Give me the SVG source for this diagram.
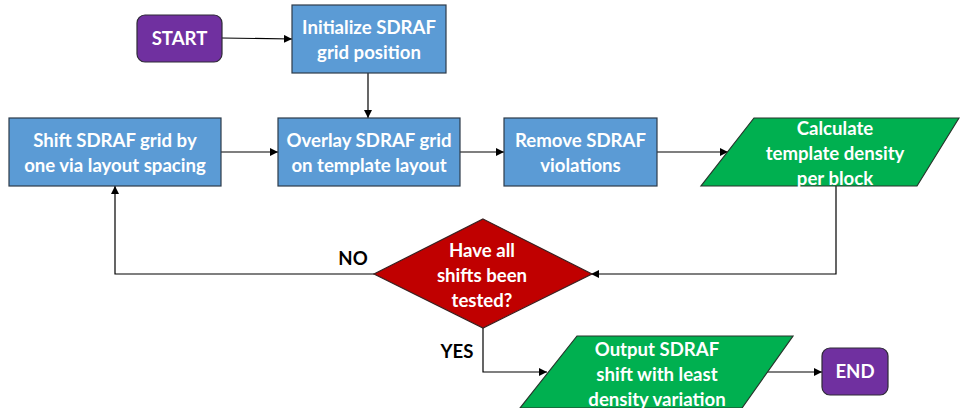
<svg xmlns="http://www.w3.org/2000/svg" width="960" height="408" viewBox="0 0 960 408">
  <style>
    .t { font-family: Lato, "Open Sans", "Liberation Sans", sans-serif; font-weight: bold; font-size: 18.6px; fill: #ffffff; text-anchor: middle; }
    .lbl { font-family: Lato, "Open Sans", "Liberation Sans", sans-serif; font-weight: bold; font-size: 18.6px; fill: #000000; text-anchor: middle; }
    .proc { fill: #5B9BD5; stroke: #2E3B4A; stroke-width: 1.2; }
    .term { fill: #7030A0; stroke: #2E2A36; stroke-width: 1.2; }
    .io { fill: #00B050; stroke: #26352B; stroke-width: 1.2; }
    .dec { fill: #C00000; stroke: #3A2020; stroke-width: 1.2; }
    .conn { fill: none; stroke: #000000; stroke-width: 1.2; }
  </style>
  <defs>
    <marker id="arrow" viewBox="0 0 10 10" refX="10" refY="5" markerWidth="8" markerHeight="8" markerUnits="userSpaceOnUse" orient="auto">
      <path d="M0,0 L10,5 L0,10 Z" fill="#000000"/>
    </marker>
  </defs>

  <rect width="960" height="408" fill="#ffffff"/>

  <!-- connectors -->
  <g id="connectors">
    <line class="conn" x1="222" y1="38" x2="292" y2="39" marker-end="url(#arrow)"/>
    <line class="conn" x1="368" y1="73" x2="368" y2="118" marker-end="url(#arrow)"/>
    <line class="conn" x1="221" y1="152" x2="278" y2="152" marker-end="url(#arrow)"/>
    <line class="conn" x1="460" y1="152" x2="504" y2="152" marker-end="url(#arrow)"/>
    <line class="conn" x1="657" y1="152" x2="728" y2="152" marker-end="url(#arrow)"/>
    <polyline class="conn" points="836,186 836,274 591,274" marker-end="url(#arrow)"/>
    <polyline class="conn" points="374,274 115,274 115,186" marker-end="url(#arrow)"/>
    <polyline class="conn" points="483,328 483,372 547,372" marker-end="url(#arrow)"/>
    <line class="conn" x1="767" y1="372" x2="822" y2="372" marker-end="url(#arrow)"/>
    <text class="lbl" x="353" y="265">NO</text>
    <text class="lbl" x="457" y="358">YES</text>
  </g>

  <g id="start">
    <rect class="term" x="137" y="15" width="85" height="47" rx="8"/>
    <text class="t" x="179.5" y="45">START</text>
  </g>

  <g id="init">
    <rect class="proc" x="292" y="5" width="154" height="68"/>
    <text class="t" x="369" y="33.5">Initialize SDRAF</text>
    <text class="t" x="369" y="58.5">grid position</text>
  </g>

  <g id="shift">
    <rect class="proc" x="9" y="118" width="212" height="68"/>
    <text class="t" x="115" y="146.5">Shift SDRAF grid by</text>
    <text class="t" x="115" y="171.5">one via layout spacing</text>
  </g>

  <g id="overlay">
    <rect class="proc" x="278" y="118" width="182" height="68"/>
    <text class="t" x="369" y="146.5">Overlay SDRAF grid</text>
    <text class="t" x="369" y="171.5">on template layout</text>
  </g>

  <g id="remove">
    <rect class="proc" x="504" y="118" width="153" height="68"/>
    <text class="t" x="580.5" y="146.5">Remove SDRAF</text>
    <text class="t" x="580.5" y="171.5">violations</text>
  </g>

  <g id="calculate">
    <polygon class="io" points="754,118 959,118 917,186 701,186"/>
    <text class="t" x="835" y="134.5">Calculate</text>
    <text class="t" x="835" y="159.5">template density</text>
    <text class="t" x="835" y="184.5">per block</text>
  </g>

  <g id="decision">
    <polygon class="dec" points="483,219 592,274 483,328 374,274"/>
    <text class="t" x="482" y="256.5">Have all</text>
    <text class="t" x="482" y="281.5">shifts been</text>
    <text class="t" x="482" y="306.5">tested?</text>
  </g>

  <g id="output">
    <polygon class="io" points="577,336 793,336 742,408 520,408"/>
    <text class="t" x="657" y="355.5">Output SDRAF</text>
    <text class="t" x="657" y="380.5">shift with least</text>
    <text class="t" x="657" y="405.5">density variation</text>
  </g>

  <g id="end">
    <rect class="term" x="822" y="348" width="66" height="47" rx="8"/>
    <text class="t" x="855" y="378">END</text>
  </g>
</svg>
